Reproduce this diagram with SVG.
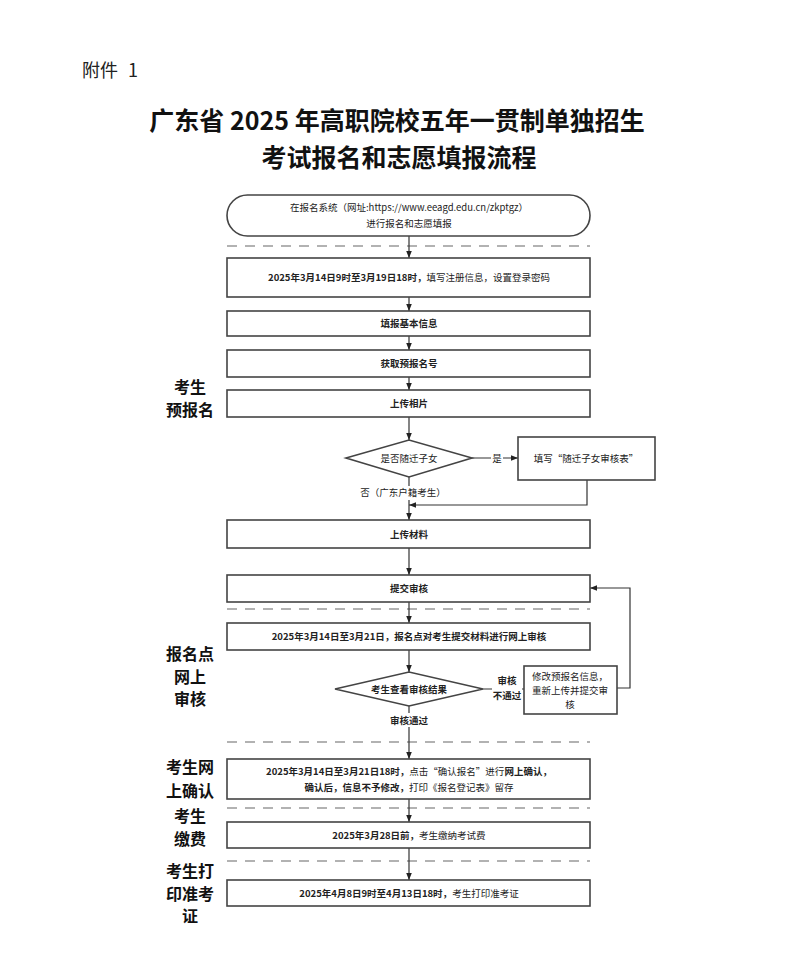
<svg xmlns="http://www.w3.org/2000/svg" width="800" height="964" viewBox="0 0 800 964">
<defs>
<marker id="ah" viewBox="0 0 10 10" refX="10" refY="5" markerWidth="7" markerHeight="7" orient="auto" markerUnits="userSpaceOnUse"><path d="M0,1 L10,5 L0,9 z" fill="#222"/></marker>
</defs>
<style>
.box{fill:#fff;stroke:#444;stroke-width:1.6}
.ln{fill:none;stroke:#333;stroke-width:1.2}
.dash{stroke:#999;stroke-width:1.3;stroke-dasharray:10 8}
.t{font-family:"Noto Sans CJK SC","Liberation Sans",sans-serif;font-size:9.5px;fill:#222;text-anchor:middle}
.b{font-weight:bold}
.side{font-family:"Noto Sans CJK SC",sans-serif;font-size:16px;font-weight:bold;fill:#111;text-anchor:middle}
.title{font-family:"Noto Sans CJK SC",sans-serif;font-size:25px;font-weight:bold;fill:#111;text-anchor:middle}
</style>
<rect width="800" height="964" fill="#fff"/>
<text x="82" y="77" style="font-family:'Noto Sans CJK SC',sans-serif;font-size:18px;fill:#222;word-spacing:6px">附件 1</text>
<text class="title" x="397" y="130">广东省 2025 年高职院校五年一贯制单独招生</text>
<text class="title" x="399" y="167">考试报名和志愿填报流程</text>

<g id="dashes">
<line class="dash" x1="227" y1="246" x2="590" y2="246"/>
<line class="dash" x1="227" y1="609" x2="590" y2="609"/>
<line class="dash" x1="227" y1="742" x2="590" y2="742"/>
<line class="dash" x1="227" y1="808" x2="590" y2="808"/>
<line class="dash" x1="227" y1="861" x2="590" y2="861"/>
</g>

<g id="side-labels">
<text class="side" x="190" y="393">考生</text>
<text class="side" x="190" y="416">预报名</text>
<text class="side" x="190" y="660">报名点</text>
<text class="side" x="190" y="683">网上</text>
<text class="side" x="190" y="705">审核</text>
<text class="side" x="190" y="773">考生网</text>
<text class="side" x="190" y="797">上确认</text>
<text class="side" x="190" y="822">考生</text>
<text class="side" x="190" y="845">缴费</text>
<text class="side" x="190" y="877">考生打</text>
<text class="side" x="190" y="900">印准考</text>
<text class="side" x="190" y="922">证</text>
</g>

<g id="connectors">
<line class="ln" x1="409" y1="236" x2="409" y2="258" marker-end="url(#ah)"/>
<line class="ln" x1="409" y1="297" x2="409" y2="311" marker-end="url(#ah)"/>
<line class="ln" x1="409" y1="336" x2="409" y2="350" marker-end="url(#ah)"/>
<line class="ln" x1="409" y1="377" x2="409" y2="390" marker-end="url(#ah)"/>
<line class="ln" x1="409" y1="417" x2="409" y2="440" marker-end="url(#ah)"/>
<line class="ln" x1="472" y1="458" x2="518" y2="458" marker-end="url(#ah)"/>
<polyline class="ln" points="587,480 587,505 409,505" marker-end="url(#ah)"/>
<line class="ln" x1="409" y1="477" x2="409" y2="520" marker-end="url(#ah)"/>
<line class="ln" x1="409" y1="548" x2="409" y2="575" marker-end="url(#ah)"/>
<line class="ln" x1="409" y1="602" x2="409" y2="623" marker-end="url(#ah)"/>
<line class="ln" x1="409" y1="650" x2="409" y2="672" marker-end="url(#ah)"/>
<line class="ln" x1="483" y1="689" x2="524" y2="689"/>
<polyline class="ln" points="617,688 630,688 630,588 590,588" marker-end="url(#ah)"/>
<line class="ln" x1="409" y1="706" x2="409" y2="759" marker-end="url(#ah)"/>
<line class="ln" x1="409" y1="799" x2="409" y2="822" marker-end="url(#ah)"/>
<line class="ln" x1="409" y1="848" x2="409" y2="880" marker-end="url(#ah)"/>
<rect x="491" y="451" width="12" height="13" fill="#fff"/>
<text class="t" x="497" y="462">是</text>
<rect x="354" y="486" width="100" height="14" fill="#fff"/>
<text class="t" x="403" y="496">否（广东户籍考生）</text>
<rect x="492" y="673" width="30" height="32" fill="#fff"/>
<text class="t b" x="507" y="684">审核</text>
<text class="t b" x="507" y="699">不通过</text>
<rect x="385" y="713" width="48" height="14" fill="#fff"/>
<text class="t b" x="409" y="724">审核通过</text>
</g>

<g id="start">
<rect class="box" x="227" y="195" width="363" height="41" rx="20.5"/>
<text class="t" x="409" y="211">在报名系统（网址:https://www.eeagd.edu.cn/zkptgz）</text>
<text class="t" x="409" y="227">进行报名和志愿填报</text>
</g>
<g id="n1"><rect class="box" x="227" y="258" width="363" height="39"/><text class="t" x="409" y="281"><tspan class="b">2025年3月14日9时至3月19日18时，</tspan>填写注册信息，设置登录密码</text></g>
<g id="n2"><rect class="box" x="227" y="311" width="363" height="25"/><text class="t b" x="409" y="327">填报基本信息</text></g>
<g id="n3"><rect class="box" x="227" y="350" width="363" height="27"/><text class="t b" x="409" y="367">获取预报名号</text></g>
<g id="n4"><rect class="box" x="227" y="390" width="363" height="27"/><text class="t b" x="409" y="407">上传相片</text></g>
<g id="d1"><polygon class="box" points="346,458 409,440 472,458 409,477"/><text class="t" x="409" y="462">是否随迁子女</text></g>
<g id="n5"><rect class="box" x="518" y="437" width="137" height="43"/><text class="t" x="586" y="462">填写“随迁子女审核表”</text></g>
<g id="n6"><rect class="box" x="227" y="520" width="363" height="28"/><text class="t b" x="409" y="538">上传材料</text></g>
<g id="n7"><rect class="box" x="227" y="575" width="363" height="27"/><text class="t b" x="409" y="592">提交审核</text></g>
<g id="n8"><rect class="box" x="227" y="623" width="363" height="27"/><text class="t b" x="409" y="640">2025年3月14日至3月21日，报名点对考生提交材料进行网上审核</text></g>
<g id="d2"><polygon class="box" points="335,689 409,672 483,689 409,706"/><text class="t b" x="409" y="693">考生查看审核结果</text></g>
<g id="n9"><rect class="box" x="524" y="666" width="93" height="48"/>
<text class="t" x="570" y="680">修改预报名信息，</text><text class="t" x="570" y="694">重新上传并提交审</text><text class="t" x="570" y="708">核</text></g>
<g id="n10"><rect class="box" x="227" y="759" width="363" height="40"/>
<text class="t" x="409" y="775"><tspan class="b">2025年3月14日至3月21日18时，</tspan>点击“确认报名”进行<tspan class="b">网上确认，</tspan></text>
<text class="t" x="409" y="791"><tspan class="b">确认后，信息不予修改，</tspan>打印《报名登记表》留存</text></g>
<g id="n11"><rect class="box" x="227" y="822" width="363" height="26"/><text class="t" x="409" y="839"><tspan class="b">2025年3月28日前，</tspan>考生缴纳考试费</text></g>
<g id="n12"><rect class="box" x="227" y="880" width="363" height="26"/><text class="t" x="409" y="897"><tspan class="b">2025年4月8日9时至4月13日18时，</tspan>考生打印准考证</text></g>
</svg>
